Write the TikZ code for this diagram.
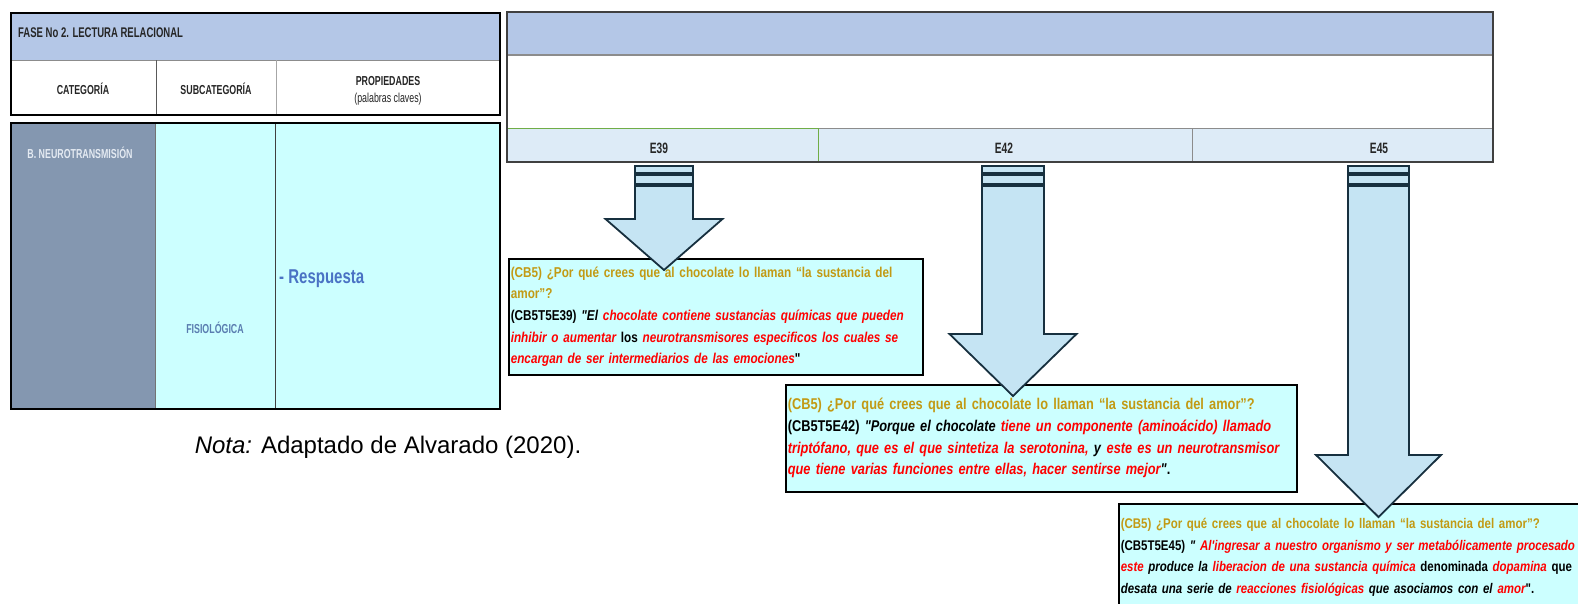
\documentclass[tikz,border=0pt]{standalone}
\usepackage{fontspec}
\setmainfont{Liberation Sans}
\newfontfamily\nar[FakeStretch=0.82]{Liberation Sans}
\newfontfamily\cond[FakeStretch=0.68]{Liberation Sans}
\newfontfamily\semicond[FakeStretch=0.75]{Liberation Sans}

\definecolor{headblue}{HTML}{B4C7E7}
\definecolor{catgray}{HTML}{8497B0}
\definecolor{cellcyan}{HTML}{CCFFFF}
\definecolor{erow}{HTML}{DDEBF7}
\definecolor{arrowfill}{HTML}{C5E4F3}
\definecolor{arrowline}{HTML}{17303F}
\definecolor{qgold}{HTML}{C29A14}
\definecolor{qred}{HTML}{FF0000}
\definecolor{subblue}{HTML}{5A7DB0}
\definecolor{respblue}{HTML}{4A72C4}
\definecolor{neurowhite}{HTML}{E4EAF2}
\definecolor{framegray}{HTML}{404040}
\definecolor{rulegray}{HTML}{8C8C8C}
\definecolor{rulegreen}{HTML}{70AD47}

% question in gold, answer fragments in red italic
\newcommand\goldq[1]{\textcolor{qgold}{#1}}
\newcommand\redi[1]{\textcolor{qred}{\itshape #1}}
\newcommand\qline[1]{\mbox{#1}}

% block arrow with two bands above the shaft
% #1 centre x, #2 half shaft width, #3 half head width, #4 head top y, #5 tip y
\newcommand\stripedarrow[5]{%
  \draw[arrowshape] ({#1-#2},166) rectangle ({#1+#2},173);
  \draw[arrowshape] ({#1-#2},175) rectangle ({#1+#2},184);
  \draw[arrowshape] ({#1-#2},186) -- ({#1-#2},#4) -- ({#1-#3},#4) -- (#1,#5)
     -- ({#1+#3},#4) -- ({#1+#2},#4) -- ({#1+#2},186) -- cycle;
}

\tikzset{
  every node/.style={inner sep=0pt},
  hdr/.style={font=\cond\bfseries\fontsize{13}{15}\selectfont, text=black!85},
  elabel/.style={font=\cond\bfseries\fontsize{15}{17}\selectfont, text=black!85},
  quotebox/.style={draw=black, line width=1.6pt, fill=cellcyan, anchor=north west,
    align=left, inner xsep=2pt},
  arrowshape/.style={draw=arrowline, line width=1.8pt, fill=arrowfill, line join=miter},
}

\begin{document}
\begin{tikzpicture}[x=1pt, y=-1pt]
\useasboundingbox (0,0) rectangle (1578,603);

% ---------- left table: header block ----------
\fill[headblue] (11,12.7) rectangle (500,60);
\fill[white] (11,60) rectangle (500,115);
\draw[rulegray, line width=1pt] (11,60) -- (500,60);
\draw[black!65, line width=0.8pt] (156,60) -- (156,115);
\draw[black!35, line width=1pt] (276,60) -- (276,115);
\draw[black, line width=2pt] (11,12.7) rectangle (500,115);

\node[hdr, font=\cond\bfseries\fontsize{14}{16}\selectfont, anchor=west] (fase) at (18,33) {FASE No 2. LECTURA RELACIONAL};
\node[hdr] (cat) at (83,89) {CATEGORÍA};
\node[hdr] (subcat) at (216,89) {SUBCATEGORÍA};
\node[hdr] (prop) at (388,81) {PROPIEDADES};
\node[font=\cond\fontsize{13}{15}\selectfont, text=black!85] (claves) at (388,99) {(palabras claves)};

% ---------- left table: body ----------
\fill[catgray] (11,122.7) rectangle (155,409);
\fill[cellcyan] (155,122.7) rectangle (500,409);
\draw[black!55, line width=0.6pt] (155,122.7) -- (155,409);
\draw[black!75, line width=0.8pt] (275,122.7) -- (275,409);
\draw[black, line width=2pt] (11,122.7) rectangle (500,409);

\node[hdr, text=neurowhite] (neuro) at (80,153) {B. NEUROTRANSMISIÓN};
\node[hdr, text=subblue] (fisio) at (215,328) {FISIOLÓGICA};
\node[font=\semicond\bfseries\fontsize{20}{23}\selectfont, text=respblue, anchor=west] (resp) at (279,279) {- Respuesta};

\node[font=\fontsize{24}{28}\selectfont, text=black] (nota) at (388,447) {\textit{Nota:} Adaptado de Alvarado (2020).};

% ---------- right table ----------
\fill[headblue] (507,12) rectangle (1493,55);
\fill[white] (507,55) rectangle (1493,128);
\fill[erow] (507,128) rectangle (1493,162);
\draw[rulegray, line width=1.5pt] (507,55) -- (1493,55);
\draw[rulegreen, line width=1pt] (507,128) -- (818,128);
\draw[rulegray, line width=1pt] (818,128) -- (1493,128);
\draw[rulegreen, line width=0.7pt] (818,128) -- (818,162);
\draw[rulegray, line width=0.7pt] (1192,128) -- (1192,162);
\draw[framegray, line width=2pt] (507,12) rectangle (1493,162);

\node[elabel] (e39) at (659,148) {E39};
\node[elabel] (e42) at (1004,148) {E42};
\node[elabel] (e45) at (1379,148) {E45};

% ---------- answer boxes ----------
\node[quotebox, font=\nar\bfseries\fontsize{14.3}{21.7}\selectfont,
      text width=410pt, minimum height=116pt] (r39) at (508,258) {%
\qline{\goldq{(CB5) ¿Por qué crees que al chocolate lo llaman “la sustancia del}}\\
\qline{\goldq{amor”?}}\\
\qline{(CB5T5E39) \textit{"El} \redi{chocolate contiene sustancias químicas que pueden}}\\
\qline{\redi{inhibir o aumentar} los \redi{neurotransmisores especificos los cuales se}}\\
\qline{\redi{encargan de ser intermediarios de las emociones}"}};

\node[quotebox, font=\nar\bfseries\fontsize{15.6}{21.7}\selectfont,
      text width=507pt, minimum height=107pt] (r42) at (785,384) {%
\qline{\goldq{(CB5) ¿Por qué crees que al chocolate lo llaman “la sustancia del amor”?}}\\
\qline{(CB5T5E42) \textit{"Porque el chocolate} \redi{tiene un componente (aminoácido) llamado}}\\
\qline{\redi{triptófano, que es el que sintetiza la serotonina,} \textit{y} \redi{este es un neurotransmisor}}\\
\qline{\redi{que tiene varias funciones entre ellas, hacer sentirse mejor}\textit{"}.}};

\node[quotebox, font=\nar\bfseries\fontsize{14.0}{21.7}\selectfont,
      text width=476pt, minimum height=107pt] (r45) at (1118,503) {%
\qline{\goldq{(CB5) ¿Por qué crees que al chocolate lo llaman “la sustancia del amor”?}}\\
\qline{(CB5T5E45) \textit{"} \redi{Al'ingresar a nuestro organismo y ser metabólicamente procesado}}\\
\qline{\redi{este} \textit{produce la} \redi{liberacion de una sustancia química} denominada \redi{dopamina} que}\\
\qline{\textit{desata una serie de} \redi{reacciones fisiológicas} \textit{que asociamos con el} \redi{amor}".}};

% ---------- block arrows from each column to its answer ----------
\stripedarrow{664}{29}{58.5}{219}{270}
\stripedarrow{1013}{31}{63.5}{334}{396}
\stripedarrow{1378.5}{30.5}{62.5}{455}{517}

\end{tikzpicture}
\end{document}
